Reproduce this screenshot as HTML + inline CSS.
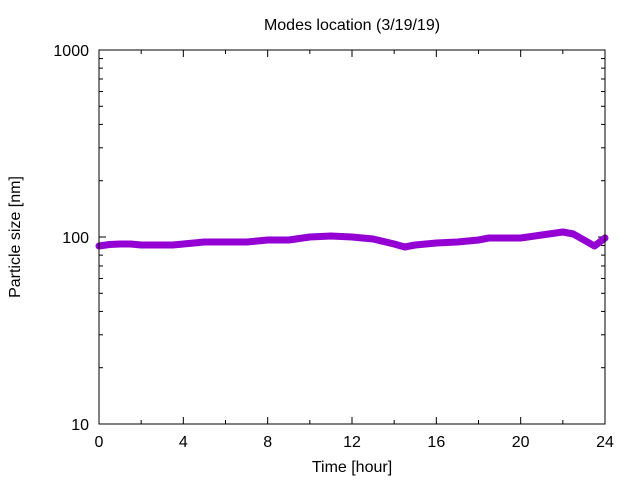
<!DOCTYPE html>
<html><head><meta charset="utf-8"><style>
body{margin:0;background:#fff;}
svg{display:block;font-family:"Liberation Sans",sans-serif;}
</style></head><body>
<svg id="chart" width="640" height="480">
<rect width="640" height="480" fill="#fff"/>
<text x="352" y="30" text-anchor="middle" font-size="16">Modes location (3/19/19)</text>
<text x="352" y="472" text-anchor="middle" font-size="16">Time [hour]</text>
<text transform="translate(20,237) rotate(-90)" text-anchor="middle" font-size="16">Particle size [nm]</text>
<g id="axes"></g>
<g id="series"></g>
<rect x="99" y="50" width="506" height="374" fill="none" stroke="#000" stroke-width="1"/>
</svg>
<script>
const hours=[0,0.5,1,1.5,2,3,3.5,4,4.5,5,6,7,8,9,10,11,12,13,14,14.5,15,16,17,18,18.5,19,20,21,22,22.5,23,23.5,24];
const sizes=[89.5,91.2,91.7,91.7,90.6,90.6,90.6,91.7,92.9,94,94,94,96.4,96.4,100,101.2,100,97.6,91.7,88.4,90.6,92.9,94,96.4,98.8,98.8,98.8,102.5,106.3,103.8,96.4,89.5,98.8];
const xTicks=[0,4,8,12,16,20,24];
const yTicks=[10,100,1000];
const NS="http://www.w3.org/2000/svg";
const X0=99,X1=605,Y0=424,Y1=50;
function xs(h){return X0+(h/24)*(X1-X0);}
function ys(v){return Y0-(Math.log10(v)-1)/2*(Y0-Y1);}
const axes=document.getElementById('axes');
function mk(t,a,p){const e=document.createElementNS(NS,t);for(const k in a)e.setAttribute(k,a[k]);p.appendChild(e);return e;}
xTicks.forEach(t=>{
  const x=xs(t);
  const l1=mk('line',{x1:x,x2:x,y1:Y0,y2:Y0-7,stroke:'#000'},axes);
  
  
  mk('line',{x1:x,x2:x,y1:Y1,y2:Y1+7,stroke:'#000'},axes);
  const tx=mk('text',{x:x,y:447,'text-anchor':'middle','font-size':16},axes);
  tx.textContent=t;
  
  
});
for(let t=2;t<24;t+=4){const x=xs(t);mk('line',{x1:x,x2:x,y1:Y0,y2:Y0-4,stroke:'#000'},axes);mk('line',{x1:x,x2:x,y1:Y1,y2:Y1+4,stroke:'#000'},axes);}
yTicks.forEach(t=>{
  const y=ys(t);
  const l=mk('line',{x1:X0,x2:X0+7,y1:y,y2:y,stroke:'#000'},axes);
  
  
  mk('line',{x1:X1,x2:X1-7,y1:y,y2:y,stroke:'#000'},axes);
  const tx=mk('text',{x:89,y:y+6,'text-anchor':'end','font-size':16},axes);
  tx.textContent=t;
  
  
});
[10,100].forEach(d=>{for(let m=2;m<10;m++){const y=ys(d*m);mk('line',{x1:X0,x2:X0+4,y1:y,y2:y,stroke:'#000'},axes);mk('line',{x1:X1,x2:X1-4,y1:y,y2:y,stroke:'#000'},axes);}});
const series=document.getElementById('series');
const pts=hours.map((h,i)=>xs(h).toFixed(1)+','+ys(sizes[i]).toFixed(1)).join(' ');
const pl=mk('polyline',{points:pts,fill:'none',stroke:'#9400d3','stroke-width':7,'stroke-linejoin':'round','stroke-linecap':'round'},series);


</script>
</body></html>
